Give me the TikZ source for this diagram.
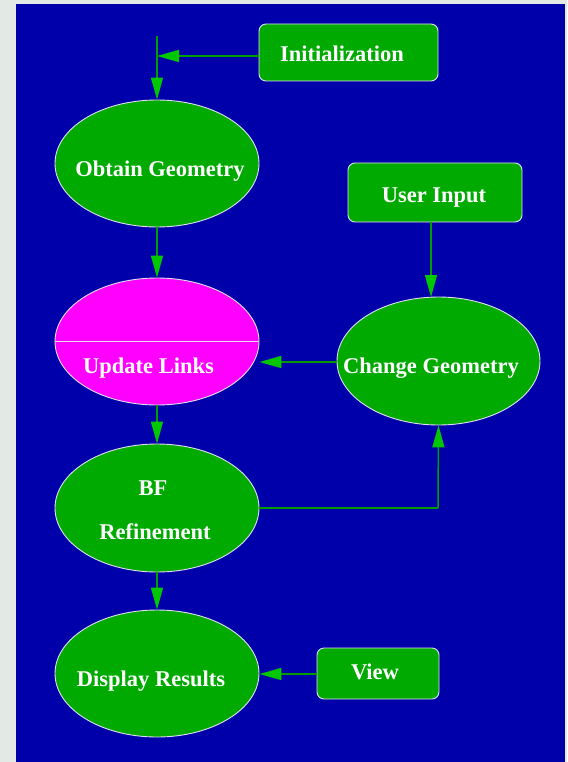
\documentclass[tikz,border=0pt]{standalone}
\usepackage{fontspec}
\setmainfont{Liberation Serif}
\usetikzlibrary{arrows.meta,shapes.geometric}
\definecolor{pagebg}{HTML}{E3EAE6}
\definecolor{panel}{HTML}{0000AA}
\definecolor{boxgreen}{HTML}{00AA00}
\definecolor{linegreen}{HTML}{009C00}
\definecolor{headgreen}{HTML}{00C800}
\definecolor{rimcol}{HTML}{E0E0F0}
\definecolor{pinkfill}{HTML}{FF00FF}
\tikzset{
  ovalnode/.style={ellipse, draw=rimcol, line width=0.9pt, fill=boxgreen,
    minimum width=204pt, minimum height=128pt, inner sep=0pt},
  rectnode/.style={rectangle, rounded corners=7pt, draw=rimcol, line width=0.9pt,
    fill=boxgreen, inner sep=0pt},
  lbl/.style={anchor=base, text=white, font=\fontsize{22.5}{24}\selectfont\bfseries, inner sep=0pt},
  conn/.style={draw=linegreen, line width=1.5pt,
    -{Triangle[length=22pt,width=12pt,color=headgreen,fill=headgreen]}},
  plain/.style={draw=linegreen, line width=1.5pt}
}
\begin{document}
\begin{tikzpicture}[x=1pt,y=-1pt]
\fill[pagebg] (0,0) rectangle (567,762);
\fill[panel] (16,4) rectangle (565,762);
\useasboundingbox (0,0) rectangle (567,762);

% nodes
\node[rectnode, minimum width=179pt, minimum height=57pt] (init) at (348.5,52.5) {};
\node[lbl] (initT) at (342,62) {Initialization};

\node[ovalnode, minimum height=127pt] (obtain) at (157,163.5) {};
\node[lbl] (obtainT) at (160,176) {Obtain Geometry};

\node[ovalnode, fill=pinkfill, minimum height=127pt] (update) at (157,341.5) {};
\draw[draw=rimcol, line width=1pt] (update.west) -- (update.east);
\node[lbl] (updateT) at (148.5,373) {Update Links};

\node[rectnode, minimum width=174pt, minimum height=59pt] (user) at (435,192.5) {};
\node[lbl] (userT) at (434,202) {User Input};

\node[ovalnode, minimum width=203pt] (change) at (438.5,361) {};
\node[lbl] (changeT) at (431,373) {Change Geometry};

\node[ovalnode] (bf) at (157,508) {};
\node[lbl] (bfT) at (153,495) {BF};
\node[lbl] (refT) at (155,539) {Refinement};

\node[ovalnode, minimum height=127pt] (disp) at (157,673.5) {};
\node[lbl] (dispT) at (151,686) {Display Results};

\node[rectnode, minimum width=122pt, minimum height=51pt] (view) at (378,673.5) {};
\node[lbl] (viewT) at (375,679) {View};

% connectors
\coordinate (topend) at (157,36);
\coordinate (joinpt) at (157,56);
\coordinate (corner) at (438,508);
\coordinate (viewrow) at (0,674);
\draw[plain] (topend) -- (joinpt);
\draw[conn] (joinpt) -- (obtain.north);
\draw[conn] (init.west |- joinpt) -- (joinpt);
\draw[conn] (obtain.south) -- (update.north);
\draw[conn] (update.south) -- (bf.north);
\draw[conn] (bf.south) -- (disp.north);
\draw[conn] (view.west |- viewrow) -- (disp.east |- viewrow);
\draw[conn] (user.south -| 431,0) -- (431,297);
\draw[conn] (change.west |- 0,362) -- (update.east |- 0,362);
\draw[plain] (bf.east) -- (corner);
\draw[conn] (corner) -- (change.south);
\end{tikzpicture}
\end{document}
